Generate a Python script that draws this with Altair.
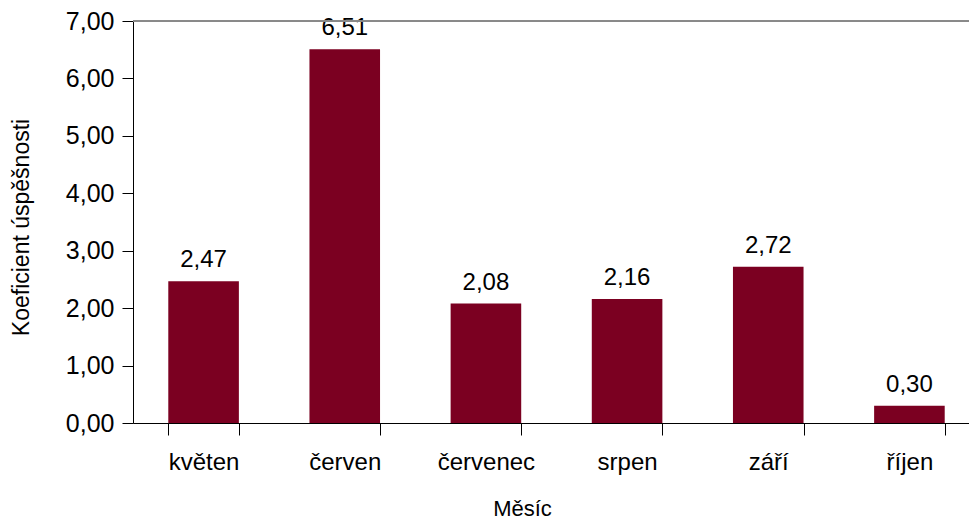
import altair as alt
import pandas as pd

months = ["květen", "červen", "červenec", "srpen", "září", "říjen"]
values = [2.47, 6.51, 2.08, 2.16, 2.72, 0.30]
labels = ["2,47", "6,51", "2,08", "2,16", "2,72", "0,30"]

df = pd.DataFrame({"mesic": months, "koef": values, "lab": labels})

FONT = "Liberation Sans"
PW = 847

x = alt.X("mesic:N", sort=months,
          scale=alt.Scale(range=[0, PW], paddingInner=0.5, paddingOuter=0.25),
          axis=alt.Axis(title="Měsíc", labelAngle=0, labelFontSize=24, labelFont=FONT,
                        labelColor="black", labelPadding=15, tickBand="extent",
                        tickSize=12, tickColor="black", domainColor="black",
                        titleFont=FONT, titleFontSize=22, titleFontWeight="normal",
                        titleColor="black", titleX=389, titleY=75, titleBaseline="top",
                        titleAnchor="start", titleAlign="center"))

y = alt.Y("koef:Q", scale=alt.Scale(domain=[0, 7], nice=False),
          axis=alt.Axis(title="Koeficient úspěšnosti", values=[0, 1, 2, 3, 4, 5, 6, 7],
                        labelExpr="replace(format(datum.value, '.2f'), '.', ',')",
                        labelFontSize=25, labelFont=FONT, labelColor="black",
                        labelPadding=8, tickSize=11, tickColor="black",
                        domainColor="black", grid=False,
                        titleFont=FONT, titleFontSize=23, titleFontWeight="normal",
                        titleColor="black", titleX=-100, titleY=206))

bars = alt.Chart(df).mark_bar(color="#7B0021").encode(x=x, y=y)
text = alt.Chart(df).mark_text(dy=-14, fontSize=24, font=FONT, color="black",
                               baseline="alphabetic").encode(
    x=alt.X("mesic:N", sort=months), y="koef:Q", text="lab:N")
top = alt.Chart(df).mark_rule(color="#888888", strokeWidth=1).encode(
    y=alt.datum(7), x=alt.value(0), x2=alt.value(PW))

chart = alt.layer(bars, text, top).properties(
    width=836, height=402,
    padding={"left": 133, "top": 21, "right": 0, "bottom": 97},
    autosize=alt.AutoSizeParams(type="none"),
).configure_view(stroke=None).configure(background="white")

chart.save("out.html", embed_options={"renderer": "svg", "actions": False})
